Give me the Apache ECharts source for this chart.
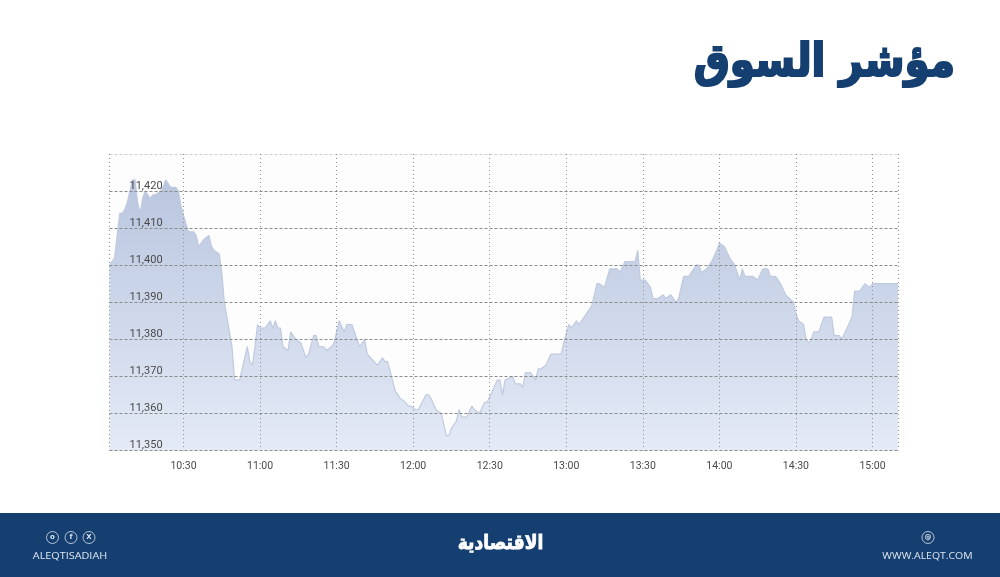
<!DOCTYPE html>
<html><head><meta charset="utf-8">
<style>html,body{margin:0;padding:0;background:#fff}#c{width:1000px;height:577px}</style>
<script src="https://cdn.jsdelivr.net/npm/echarts@6/dist/echarts.min.js"></script>
</head><body><div id="c"></div>
<script>
var titleText='مؤشر السوق';
var logoText='الاقتصادية';
var handleText='ALEQTISADIAH';
var siteText='WWW.ALEQT.COM';
var tickTimes=['10:30','11:00','11:30','12:00','12:30','13:00','13:30','14:00','14:30','15:00'];
var yTicks=[11350,11430,10];
// minutes since midnight
var minutes=[601,602,603,605,606,607,608,610,611,612,613,614,615,616,617,618,619,621,622,623,624,625,627,628,629,631,632,634,635,636,638,640,641,642,644,645,646,648,649,650,652,653,655,656,657,658,659,660,662,664,665,666,667,668,669,671,672,673,674,676,678,679,681,682,683,685,686,688,689,691,693,694,696,699,701,702,706,708,709,710,713,714,
715,717,718,719,721,722,725,726,727,729,731,733,734,735,737,738,739,741,743,744,746,748,749,751,753,754,755,756,759,760,762,763,764,766,768,769,770,772,774,776,778,779,781,782,784,785,788,790,792,793,795,797,798,800,801,803,804,806,807,808,809,811,813,814,816,
818,819,821,823,824,826,828,829,831,832,833,835,837,839,840,842,844,846,848,849,850,853,855,857,859,860,862,864,866,869,870,871,873,874,875,876,877,879,881,882,884,885,887,888,890,892,893,895,897,899,900,910];
var values=[11400,11401,11402,11414,11414,11415,11417,11423,11423,11417,11414,11418,11420,11419,11418,11419,11419,11420,11421,11423,11422,11421,11421,11420,11416,11411,11409,11409,11408,11405,11407,11408,11405,11404,11403,11398,11390,11382,11378,11369,11369,11372,11378,11374,11373,11378,11384,11383,11383,11385,11383,11385,11383,11383,11378,11377,11382,11381,11380,11379,11375,11376,11381,11381,11378,11378,11377,11378,11379,11385,11382,11384,11384,11378,11380,11376,11373,11375,11374,11374,11366,11365,
11364,11363,11362,11362,11361,11361,11365,11365,11364,11361,11360,11354,11354,11356,11358,11361,11359,11359,11362,11361,11360,11363,11363,11366,11369,11369,11365,11369,11370,11368,11368,11367,11371,11371,11369,11372,11372,11373,11376,11376,11376,11379,11384,11383,11385,11384,11387,11389,11395,11395,11394,11399,11399,11399,11398,11401,11401,11401,11401,11404,11396,11396,11394,11391,11391,
11392,11391,11392,11390,11391,11397,11397,11398,11400,11400,11398,11399,11401,11404,11406,11405,11402,11400,11396,11399,11397,11397,11396,11399,11399,11397,11397,11395,11392,11390,11387,11385,11384,11380,11379,11380,11382,11382,11386,11386,11386,11381,11381,11380,11383,11386,11393,11393,11395,11394,11395,11395];
function fmt(m){var h=Math.floor(m/60),n=m%60;return (h<10?'0':'')+h+':'+(n<10?'0':'')+n;}
var cats=[];for(var m=601;m<=910;m++)cats.push(fmt(m));
var pts=minutes.map(function(m,i){return [fmt(m),values[i]];});
var navy='#143f70';
function ring(x,y,r,label){return [
 {type:'circle',shape:{cx:x,cy:y,r:r},style:{fill:'none',stroke:'#c6d2e0',lineWidth:0.9},silent:true},
 {type:'text',style:{x:x,y:y,text:label,fill:'#dbe3ec',font:'bold 7px "DejaVu Sans"',textAlign:'center',textVerticalAlign:'middle'},silent:true}
];}
var g=[
 {type:'rect',shape:{x:0,y:513,width:1000,height:64},style:{fill:navy},silent:true},
 {type:'text',x:955,y:64,scaleX:0.88,scaleY:1,style:{x:0,y:0,text:titleText,fill:navy,stroke:navy,lineWidth:2.2,font:'bold 46px "DejaVu Sans"',textAlign:'right',textVerticalAlign:'middle'},silent:true},
 {type:'text',x:500.5,y:544,scaleX:0.9,scaleY:1.05,style:{x:0,y:0,text:logoText,fill:'#fff',stroke:'#fff',lineWidth:0.8,font:'bold 19px "DejaVu Sans"',textAlign:'center',textVerticalAlign:'middle'},silent:true},
 {type:'text',x:70,y:556,scaleX:1.14,style:{x:0,y:0,text:handleText,fill:'#dfe6ef',font:'9.5px "Open Sans"',textAlign:'center',textVerticalAlign:'middle'},silent:true},
 {type:'text',x:927.5,y:556,scaleX:1.1,style:{x:0,y:0,text:siteText,fill:'#dfe6ef',font:'9.5px "Open Sans"',textAlign:'center',textVerticalAlign:'middle'},silent:true}
].concat(ring(52.5,537.5,6,'o'),ring(71,537.5,6,'f'),ring(89,537.5,6,'X'),ring(928,537.5,6,'@'));
var tickSet={};tickTimes.forEach(function(t){tickSet[t]=1;});
var chart=echarts.init(document.getElementById('c'),null,{renderer:'canvas'});
chart.setOption({
 animation:false,backgroundColor:'#ffffff',
 grid:{left:109.5,right:102,top:154,bottom:126.5,show:true,backgroundColor:'#fdfdfd',borderWidth:0},
 xAxis:{type:'category',data:cats,boundaryGap:false,z:5,
  axisLine:{show:false},
  axisTick:{show:false},
  axisLabel:{color:'#4a4a4a',fontFamily:'Roboto',fontSize:10.5,margin:10,hideOverlap:false,
    interval:function(i,v){return !!tickSet[v];}},
  splitLine:{show:true,interval:function(i,v){return !!tickSet[v]||i===0||i===cats.length-1;},
    lineStyle:{color:'#8f8f8f',type:[1,3],width:1}}},
 yAxis:{type:'value',min:yTicks[0],max:yTicks[1],interval:yTicks[2],z:5,
  axisLine:{show:false},axisTick:{show:false},
  axisLabel:{inside:true,margin:20,color:'#4a4a4a',fontFamily:'Roboto',fontSize:11,verticalAlign:'bottom',lineHeight:10,
    formatter:function(v){return v>=yTicks[1]?'':String(v).slice(0,2)+','+String(v).slice(2);}},
  splitLine:{show:true,lineStyle:{color:['#8a8a8a','#8a8a8a','#8a8a8a','#8a8a8a','#8a8a8a','#8a8a8a','#8a8a8a','#8a8a8a','#cfcfcf'],type:[3,2],width:1}}},
 graphic:g,
 series:[{type:'line',data:pts,showSymbol:false,symbol:'none',smooth:false,
  lineStyle:{color:'#bfcae0',width:1.2},
  areaStyle:{opacity:1,color:{type:'linear',x:0,y:0,x2:0,y2:1,colorStops:[
    {offset:0,color:'#b9c6df'},{offset:1,color:'#e4eaf6'}]}}}]
});
</script></body></html>
